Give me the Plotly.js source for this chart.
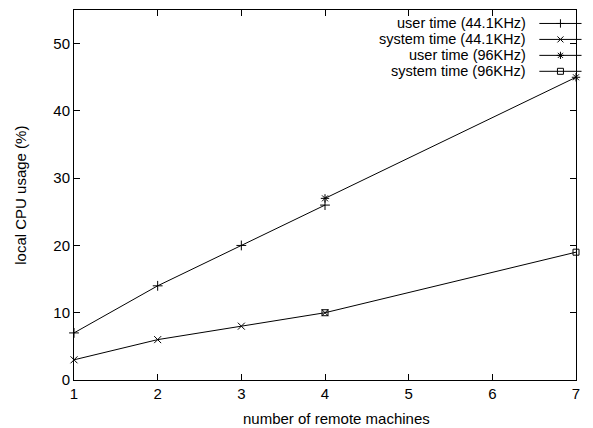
<!DOCTYPE html>
<html>
<head>
<meta charset="utf-8">
<script src="https://cdn.plot.ly/plotly-3.0.1.min.js"></script>
<style>html,body{margin:0;padding:0;background:#fff;}#chart{width:593px;height:428px;}</style>
</head>
<body>
<div id="chart"></div>
<script>
// Data
const seriesNames = ["user time (44.1KHz)", "system time (44.1KHz)", "user time (96KHz)", "system time (96KHz)"];
const user441X = [1, 2, 3, 4];
const user441Y = [7, 14, 20, 26];
const sys441X = [1, 2, 3, 4];
const sys441Y = [3, 6, 8, 10];
const user96X = [4, 7];
const user96Y = [27, 45];
const sys96X = [4, 7];
const sys96Y = [10, 19];
const xTicks = [1, 2, 3, 4, 5, 6, 7];
const yTicks = [0, 10, 20, 30, 40, 50];
const xTitle = "number of remote machines";
const yTitle = "local CPU usage (%)";

const symbols = ["cross-thin-open", "x-thin-open", "asterisk-open", "square-open"];
const sizes = [7, 7, 7, 6];
const keySizes = [6, 6, 6, 6];
const font = {family: "Liberation Sans, Arial, sans-serif", size: 15, color: "#000"};
const keyFont = {family: "Liberation Sans, Arial, sans-serif", size: 14.5, color: "#000"};

const dataX = [user441X, sys441X, user96X, sys96X];
const dataY = [user441Y, sys441Y, user96Y, sys96Y];

const traces = [];
for (let i = 0; i < 4; i++) {
  traces.push({
    x: dataX[i], y: dataY[i], type: "scatter", mode: "lines+markers",
    name: seriesNames[i], showlegend: false, cliponaxis: false,
    line: {color: "#000", width: 1},
    marker: {symbol: symbols[i], size: sizes[i], color: "#000", line: {color: "#000", width: 1}}
  });
}

// Gnuplot-style key: text on the left, sample on the right
const annotations = [];
const shapes = [];
const keyTop = 0.9636, keyStep = 0.0431;
for (let i = 0; i < 4; i++) {
  const yy = keyTop - i * keyStep;
  shapes.push({
    type: "line", xref: "paper", yref: "paper",
    x0: 0.927, x1: 1.011, y0: yy, y1: yy,
    line: {color: "#000", width: 1}
  });
  traces.push({
    x: [0.969], y: [yy], xaxis: "x2", yaxis: "y2", cliponaxis: false,
    type: "scatter", mode: "markers", showlegend: false, hoverinfo: "skip",
    marker: {symbol: symbols[i], size: keySizes[i], color: "#000", line: {color: "#000", width: 1}}
  });
  annotations.push({
    xref: "paper", yref: "paper", x: 0.903, y: yy, text: seriesNames[i],
    showarrow: false, xanchor: "right", yanchor: "middle", font: keyFont, borderpad: 0
  });
}

// Axis titles placed as in the gnuplot original
annotations.push({
  xref: "paper", yref: "paper", x: 0.523, y: -0.105, text: xTitle,
  showarrow: false, xanchor: "center", yanchor: "middle", font: font
});
annotations.push({
  xref: "paper", yref: "paper", x: -0.108, y: 0.5, text: yTitle, textangle: -90,
  showarrow: false, xanchor: "center", yanchor: "middle", font: font
});

const layout = {
  width: 593, height: 428,
  margin: {l: 73.5, r: 16.5, t: 9.5, b: 47.5},
  paper_bgcolor: "#fff", plot_bgcolor: "#fff",
  font: font,
  showlegend: false,
  xaxis: {
    range: [1, 7], tickvals: xTicks, ticktext: xTicks.map(String),
    ticks: "inside", ticklen: 6, tickcolor: "#000", tickwidth: 1,
    showline: true, linecolor: "#000", linewidth: 1, mirror: "allticks",
    showgrid: false, zeroline: false, tickfont: font
  },
  yaxis: {
    range: [0, 55], tickvals: yTicks, ticktext: yTicks.map(String),
    ticks: "inside", ticklen: 6, tickcolor: "#000", tickwidth: 1,
    showline: true, linecolor: "#000", linewidth: 1, mirror: "allticks",
    showgrid: false, zeroline: false, tickfont: font
  },
  xaxis2: {overlaying: "x", range: [0, 1], visible: false, fixedrange: true},
  yaxis2: {overlaying: "y", range: [0, 1], visible: false, fixedrange: true},
  shapes: shapes,
  annotations: annotations
};

Plotly.newPlot("chart", traces, layout, {staticPlot: true, displayModeBar: false});
</script>
</body>
</html>
